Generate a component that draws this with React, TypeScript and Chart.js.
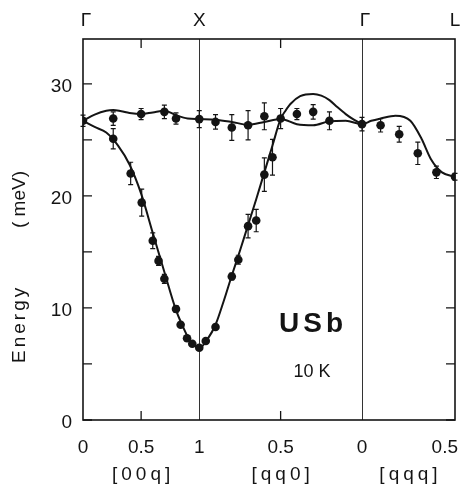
import React, { useEffect, useRef } from 'react';
import { Chart, registerables } from 'chart.js';

Chart.register(...registerables);

// ---------- path geometry: x position of wavevector q on each segment ----------
// [00q]: Γ(0) -> X(1);  [qq0]: X(1) -> Γ(0);  [qqq]: Γ(0) -> L(0.5)
function pathX(seg: string, q: number): number {
  if (seg === '00q') return q;
  if (seg === 'qq0') return 1 + (1 - q) * 1.4;
  return 2.4 + q * 1.6;
}

// ---------- axis ticks ----------
const Y_TICKS = [0, 5, 10, 15, 20, 25, 30];
const Y_LABELS = ['0', '', '10', '', '20', '', '30'];

const XTICK_SEG = ['00q', '00q', '00q', 'qq0', 'qq0', 'qqq'];
const XTICK_Q = [0, 0.5, 1, 0.5, 0, 0.5];
const XTICK_LABELS = ['0', '0.5', '1', '0.5', '0', '0.5'];

const SYM_SEG = ['00q', '00q', 'qq0', 'qqq'];
const SYM_Q = [0, 1, 0, 0.5];
const SYM_LABELS = ['Γ', 'X', 'Γ', 'L'];

const DIR_SEG = ['00q', 'qq0', 'qqq'];
const DIR_Q = [0.5, 0.5, 0.25];
const DIR_LABELS = ['[00q]', '[qq0]', '[qqq]'];

// ---------- measured points: upper (flat) branch ----------
const U_00Q_Q = [0, 0.26, 0.5, 0.7, 0.8, 1.0];
const U_00Q_E = [26.7, 26.9, 27.3, 27.5, 26.9, 26.85];
const U_00Q_ERR = [0.5, 0.6, 0.5, 0.6, 0.5, 0.75];

const U_QQ0_Q = [0.9, 0.8, 0.7, 0.6, 0.5, 0.4, 0.3, 0.2, 0];
const U_QQ0_E = [26.6, 26.1, 26.3, 27.1, 26.9, 27.3, 27.5, 26.7, 26.4];
const U_QQ0_ERR = [0.65, 1.15, 1.3, 1.2, 0.9, 0.5, 0.65, 0.8, 0.6];

const U_QQQ_Q = [0.1, 0.2, 0.3, 0.4, 0.5];
const U_QQQ_E = [26.3, 25.5, 23.8, 22.1, 21.7];
const U_QQQ_ERR = [0.6, 0.7, 1.0, 0.55, 0.3];

// ---------- measured points: lower (dispersive) branch ----------
const L_00Q_Q = [0.26, 0.41, 0.505, 0.6, 0.65, 0.7, 0.8, 0.84, 0.895, 0.94, 1.0];
const L_00Q_E = [25.1, 22.0, 19.4, 16.0, 14.2, 12.6, 9.9, 8.5, 7.3, 6.8, 6.45];
const L_00Q_ERR = [0.9, 1.0, 1.2, 0.7, 0.4, 0.4, 0.3, 0, 0, 0, 0];

const L_QQ0_Q = [0.96, 0.9, 0.8, 0.76, 0.7, 0.65, 0.6, 0.55];
const L_QQ0_E = [7.05, 8.3, 12.8, 14.3, 17.3, 17.8, 21.9, 23.45];
const L_QQ0_ERR = [0, 0, 0.3, 0.4, 1.05, 1.0, 1.5, 1.6];

// ---------- calculated curves ----------
const CU_00Q_Q = [0, 0.1, 0.2, 0.26, 0.33, 0.4, 0.5, 0.6, 0.7, 0.8, 0.9, 1.0];
const CU_00Q_E = [26.7, 27.25, 27.6, 27.67, 27.55, 27.4, 27.3, 27.45, 27.6, 27.2, 26.9, 26.85];
const CU_QQ0_Q = [0.9, 0.8, 0.7, 0.6, 0.5, 0.4, 0.3, 0.2, 0.1, 0];
const CU_QQ0_E = [26.8, 26.6, 26.35, 26.6, 26.87, 26.4, 26.3, 26.65, 26.7, 26.4];
const CU_QQQ_Q = [0.05, 0.1, 0.18, 0.26, 0.32, 0.37, 0.43, 0.5];
const CU_QQQ_E = [26.7, 26.9, 27.15, 26.7, 25.1, 23.3, 22.1, 21.7];

const CL_00Q_Q = [0, 0.1, 0.2, 0.3, 0.4, 0.5, 0.6, 0.7, 0.8, 0.85, 0.9, 0.95, 1.0];
const CL_00Q_E = [26.7, 26.15, 25.65, 24.5, 22.8, 20.2, 16.7, 13.2, 9.8, 8.55, 7.45, 6.75, 6.4];
const CL_QQ0_Q = [0.95, 0.9, 0.85, 0.8, 0.75, 0.7, 0.65, 0.6, 0.55, 0.5, 0.47, 0.44, 0.38, 0.3, 0.25, 0.2, 0.15, 0.1, 0.05, 0];
const CL_QQ0_E = [7.2, 8.5, 10.6, 12.9, 15.1, 17.4, 19.7, 22.1, 24.5, 26.87, 27.6, 28.2, 28.9, 29.1, 28.95, 28.55, 27.9, 27.3, 26.8, 26.4];

const X_MIN = 0;
const X_MAX = 3.2;
const Y_MIN = 0;
const Y_MAX = 34;

type Pt = { x: number; y: number; err?: number };

function toXY(seg: string, qs: number[], es: number[], errs?: number[]): Pt[] {
  return qs.map((q, i) => ({ x: pathX(seg, q), y: es[i], err: errs ? errs[i] : 0 }));
}

const INK = '#141414';
const FONT = '"Liberation Sans", Arial, sans-serif';

const decorPlugin = {
  id: 'decor',
  beforeDatasetsDraw(chart: any) {
    const { ctx, chartArea: a, scales } = chart;
    const xs = scales.x;
    const ys = scales.y;
    ctx.save();
    // vertical lines at X and Γ
    ctx.strokeStyle = '#333';
    ctx.lineWidth = 1;
    [1, 2].forEach((i) => {
      const px = Math.round(xs.getPixelForValue(pathX(SYM_SEG[i], SYM_Q[i]))) + 0.5;
      ctx.beginPath();
      ctx.moveTo(px, a.top);
      ctx.lineTo(px, a.bottom);
      ctx.stroke();
    });
    // frame
    ctx.strokeStyle = INK;
    ctx.lineWidth = 1.6;
    ctx.strokeRect(a.left, a.top, a.right - a.left, a.bottom - a.top);
    // y tick marks (both sides, inward)
    ctx.lineWidth = 1.3;
    const tl = 9;
    Y_TICKS.forEach((v) => {
      const py = ys.getPixelForValue(v);
      ctx.beginPath();
      ctx.moveTo(a.left, py);
      ctx.lineTo(a.left + tl, py);
      ctx.moveTo(a.right, py);
      ctx.lineTo(a.right - tl, py);
      ctx.stroke();
    });
    // x tick marks at the 0.5 positions (top and bottom, inward)
    XTICK_SEG.forEach((seg, i) => {
      if (XTICK_LABELS[i] !== '0.5' || seg === 'qqq') return;
      const px = xs.getPixelForValue(pathX(seg, XTICK_Q[i]));
      ctx.beginPath();
      ctx.moveTo(px, a.bottom);
      ctx.lineTo(px, a.bottom - tl);
      ctx.moveTo(px, a.top);
      ctx.lineTo(px, a.top + tl);
      ctx.stroke();
    });
    ctx.restore();
  },
  afterDatasetsDraw(chart: any) {
    const { ctx, scales } = chart;
    const xs = scales.x;
    const ys = scales.y;
    ctx.save();
    ctx.strokeStyle = INK;
    ctx.lineWidth = 1.2;
    chart.data.datasets.forEach((ds: any) => {
      if (!ds.errorBars) return;
      ds.data.forEach((d: Pt) => {
        if (!d.err) return;
        const px = xs.getPixelForValue(d.x);
        const top = ys.getPixelForValue(d.y + d.err);
        const bot = ys.getPixelForValue(d.y - d.err);
        ctx.beginPath();
        ctx.moveTo(px, top);
        ctx.lineTo(px, bot);
        ctx.moveTo(px - 2.5, top);
        ctx.lineTo(px + 2.5, top);
        ctx.moveTo(px - 2.5, bot);
        ctx.lineTo(px + 2.5, bot);
        ctx.stroke();
      });
    });
    ctx.restore();
  },
  afterDraw(chart: any) {
    const { ctx, chartArea: a, scales } = chart;
    const xs = scales.x;
    const ys = scales.y;
    ctx.save();
    ctx.fillStyle = INK;
    // y tick labels
    ctx.font = `19px ${FONT}`;
    ctx.textAlign = 'right';
    ctx.textBaseline = 'alphabetic';
    Y_TICKS.forEach((v, i) => {
      if (!Y_LABELS[i]) return;
      ctx.fillText(Y_LABELS[i], a.left - 11, ys.getPixelForValue(v) + 8);
    });
    // x tick labels
    XTICK_SEG.forEach((seg, i) => {
      const px = xs.getPixelForValue(pathX(seg, XTICK_Q[i]));
      const last = i === XTICK_SEG.length - 1;
      ctx.textAlign = last ? 'right' : 'center';
      ctx.fillText(XTICK_LABELS[i], last ? px + 3 : px, a.bottom + 33);
    });
    // direction labels
    (ctx as any).letterSpacing = '4px';
    ctx.textAlign = 'center';
    DIR_SEG.forEach((seg, i) => {
      const px = xs.getPixelForValue(pathX(seg, DIR_Q[i]));
      ctx.fillText(DIR_LABELS[i], px + 2, a.bottom + 60);
    });
    (ctx as any).letterSpacing = '0px';
    // symmetry point labels on top
    ctx.font = `19px ${FONT}`;
    SYM_SEG.forEach((seg, i) => {
      const px = xs.getPixelForValue(pathX(seg, SYM_Q[i]));
      ctx.textAlign = 'center';
      ctx.fillText(SYM_LABELS[i], px + (SYM_LABELS[i] === 'Γ' ? 3 : 0), a.top - 13);
    });
    // y axis title
    ctx.save();
    ctx.translate(25, 363);
    ctx.rotate(-Math.PI / 2);
    ctx.textAlign = 'left';
    (ctx as any).letterSpacing = '3px';
    ctx.fillText('Energy', 0, 0);
    (ctx as any).letterSpacing = '0px';
    ctx.fillText('( meV)', 363 - 228, 0);
    ctx.restore();
    // sample annotation
    ctx.textAlign = 'center';
    ctx.font = `bold 28px ${FONT}`;
    (ctx as any).letterSpacing = '4px';
    ctx.fillText('USb', 313, 332);
    (ctx as any).letterSpacing = '0px';
    ctx.font = `18px ${FONT}`;
    ctx.fillText('10 K', 312, 377);
    ctx.restore();
  },
};

export default function App() {
  const canvasRef = useRef<HTMLCanvasElement | null>(null);

  useEffect(() => {
    if (!canvasRef.current) return;

    const curveUpper = [
      ...toXY('00q', CU_00Q_Q, CU_00Q_E),
      ...toXY('qq0', CU_QQ0_Q, CU_QQ0_E),
      ...toXY('qqq', CU_QQQ_Q, CU_QQQ_E),
    ];
    const curveLower = [
      ...toXY('00q', CL_00Q_Q, CL_00Q_E),
      ...toXY('qq0', CL_QQ0_Q, CL_QQ0_E),
    ];
    const points = [
      ...toXY('00q', U_00Q_Q, U_00Q_E, U_00Q_ERR),
      ...toXY('qq0', U_QQ0_Q, U_QQ0_E, U_QQ0_ERR),
      ...toXY('qqq', U_QQQ_Q, U_QQQ_E, U_QQQ_ERR),
      ...toXY('00q', L_00Q_Q, L_00Q_E, L_00Q_ERR),
      ...toXY('qq0', L_QQ0_Q, L_QQ0_E, L_QQ0_ERR),
    ];

    const lineStyle = {
      type: 'line' as const,
      borderColor: INK,
      borderWidth: 2,
      pointRadius: 0,
      cubicInterpolationMode: 'monotone' as const,
      fill: false,
    };

    const chart = new Chart(canvasRef.current, {
      type: 'scatter',
      data: {
        datasets: [
          { ...lineStyle, label: 'calc upper', data: curveUpper } as any,
          { ...lineStyle, label: 'calc lower', data: curveLower } as any,
          {
            label: 'measured',
            data: points,
            pointRadius: 4.3,
            pointBackgroundColor: INK,
            pointBorderColor: INK,
            pointBorderWidth: 0,
            errorBars: true,
          } as any,
        ],
      },
      options: {
        animation: false,
        responsive: false,
        devicePixelRatio: 1,
        layout: { padding: { left: 83, right: 6, top: 39, bottom: 66 } },
        plugins: { legend: { display: false }, tooltip: { enabled: false } },
        scales: {
          x: { type: 'linear', min: X_MIN, max: X_MAX, display: false },
          y: { type: 'linear', min: Y_MIN, max: Y_MAX, display: false },
        },
      },
      plugins: [decorPlugin],
    });

    return () => chart.destroy();
  }, []);

  return (
    <div style={{ position: 'fixed', left: 0, top: 0, width: 461, height: 486, background: '#fff' }}>
      <canvas ref={canvasRef} width={461} height={486} />
    </div>
  );
}
